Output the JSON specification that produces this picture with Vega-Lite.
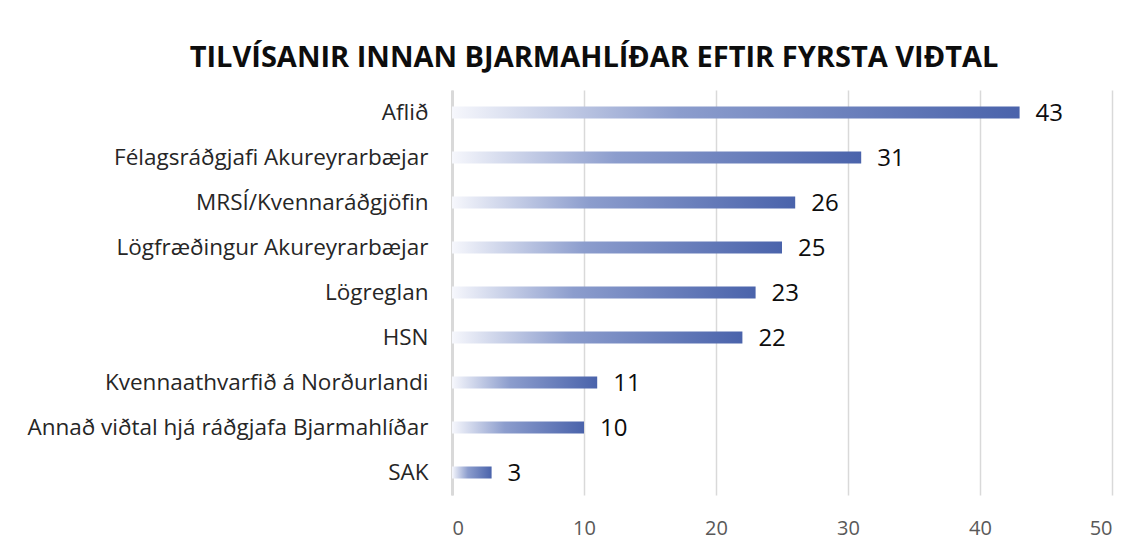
{
  "$schema": "https://vega.github.io/schema/vega-lite/v6.json",
  "autosize": "none",
  "width": 660,
  "height": 405,
  "padding": {"left": 452, "top": 90, "right": 21, "bottom": 58},
  "background": "white",
  "title": {
    "text": "TILVÍSANIR INNAN BJARMAHLÍÐAR EFTIR FYRSTA VIÐTAL",
    "font": "Open Sans",
    "fontSize": 29,
    "fontWeight": "bold",
    "color": "#0D0D0D",
    "anchor": "middle",
    "dx": -188,
    "offset": 17
  },
  "data": {
    "values": [
      {"label": "Aflið", "value": 43},
      {"label": "Félagsráðgjafi Akureyrarbæjar", "value": 31},
      {"label": "MRSÍ/Kvennaráðgjöfin", "value": 26},
      {"label": "Lögfræðingur Akureyrarbæjar", "value": 25},
      {"label": "Lögreglan", "value": 23},
      {"label": "HSN", "value": 22},
      {"label": "Kvennaathvarfið á Norðurlandi", "value": 11},
      {"label": "Annað viðtal hjá ráðgjafa Bjarmahlíðar", "value": 10},
      {"label": "SAK", "value": 3}
    ]
  },
  "encoding": {
    "y": {
      "field": "label",
      "type": "nominal",
      "sort": null,
      "title": null,
      "axis": {
        "ticks": false,
        "domain": true,
        "domainColor": "#D9D9D9",
        "domainWidth": 3,
        "labelFont": "Open Sans",
        "labelFontSize": 22.5,
        "labelColor": "#262626",
        "labelPadding": 24,
        "labelLimit": 600
      }
    },
    "x": {
      "field": "value",
      "type": "quantitative",
      "scale": {"domain": [0, 50]},
      "title": null,
      "axis": {
        "values": [0, 10, 20, 30, 40, 50],
        "ticks": false,
        "domain": false,
        "grid": true,
        "gridColor": "#D9D9D9",
        "gridWidth": 1.5,
        "labelFont": "Open Sans",
        "labelFontSize": 20,
        "labelColor": "#595959",
        "labelPadding": 23
      }
    }
  },
  "layer": [
    {
      "mark": {
        "type": "bar",
        "height": 12,
        "color": {
          "gradient": "linear",
          "x1": 0, "y1": 0, "x2": 1, "y2": 0,
          "stops": [
            {"offset": 0, "color": "#F6F7FC"},
            {"offset": 0.4, "color": "#8C9DCD"},
            {"offset": 1, "color": "#4A63AB"}
          ]
        }
      }
    },
    {
      "mark": {
        "type": "text",
        "align": "left",
        "baseline": "middle",
        "dx": 16,
        "dy": 1.5,
        "font": "Open Sans",
        "fontSize": 24,
        "color": "#0D0D0D"
      },
      "encoding": {"text": {"field": "value", "type": "quantitative"}}
    }
  ],
  "config": {"view": {"stroke": null}}
}
